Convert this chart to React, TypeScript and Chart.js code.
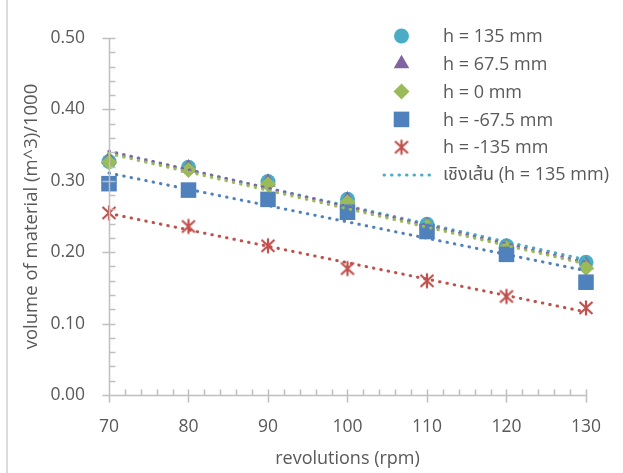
import React, { useEffect, useRef } from "react";
import { Chart, registerables } from "chart.js";
import { drawPoint } from "chart.js/helpers";

Chart.register(...registerables);

// ---- data ----
const rpm = [70, 80, 90, 100, 110, 120, 130];
const h135 = [0.327, 0.319, 0.299, 0.274, 0.239, 0.209, 0.186];
const h67_5 = [0.330, 0.318, 0.298, 0.273, 0.237, 0.207, 0.182];
const h0 = [0.326, 0.315, 0.295, 0.270, 0.236, 0.206, 0.178];
const hMinus67_5 = [0.296, 0.287, 0.274, 0.256, 0.229, 0.197, 0.158];
const hMinus135 = [0.255, 0.236, 0.209, 0.177, 0.160, 0.138, 0.122];

const seriesLabels = ["h = 135 mm", "h = 67.5 mm", "h = 0 mm", "h = -67.5 mm", "h = -135 mm"];
const trendLegendLabel = "เชิงเส้น (h = 135 mm)";
const xTickValues = [70, 80, 90, 100, 110, 120, 130];
const yTickValues = [0, 0.1, 0.2, 0.3, 0.4, 0.5];
const xTitle = "revolutions (rpm)";
const yTitle = "volume of material (m^3)/1000";

// ---- styles ----
const FONT = "'Open Sans', 'Noto Sans', 'Noto Sans Thai', 'DejaVu Sans', sans-serif";
const TEXT = "#595959";
const AXIS = "#bfbfbf";
const colors = ["#4BACC6", "#8064A2", "#9BBB59", "#4F81BD", "#C0504D"];

function makeStar(color: string) {
  const c = document.createElement("canvas");
  c.width = 18;
  c.height = 18;
  const g = c.getContext("2d")!;
  g.strokeStyle = color;
  g.lineWidth = 2.2;
  g.lineCap = "butt";
  g.beginPath();
  g.moveTo(9, 1.5);
  g.lineTo(9, 16.5);
  g.moveTo(2.5, 3);
  g.lineTo(15.5, 15);
  g.moveTo(15.5, 3);
  g.lineTo(2.5, 15);
  g.stroke();
  return c;
}

function getStyles() {
  return [
    { pointStyle: "circle" as any, radius: 7.5, borderWidth: 0 },
    { pointStyle: "triangle" as any, radius: 9, borderWidth: 0 },
    { pointStyle: "rectRot" as any, radius: 8, borderWidth: 0 },
    { pointStyle: "rect" as any, radius: 11, borderWidth: 0 },
    { pointStyle: makeStar(colors[4]) as any, radius: 8, borderWidth: 0 },
  ];
}
const allSeries = [h135, h67_5, h0, hMinus67_5, hMinus135];

function linearFit(xs: number[], ys: number[]) {
  const n = xs.length;
  const mx = xs.reduce((a, b) => a + b, 0) / n;
  const my = ys.reduce((a, b) => a + b, 0) / n;
  let sxy = 0, sxx = 0;
  for (let i = 0; i < n; i++) {
    sxy += (xs[i] - mx) * (ys[i] - my);
    sxx += (xs[i] - mx) * (xs[i] - mx);
  }
  const slope = sxy / sxx;
  const icpt = my - slope * mx;
  const x0 = xs[0], x1 = xs[n - 1];
  return [
    { x: x0, y: icpt + slope * x0 },
    { x: x1, y: icpt + slope * x1 },
  ];
}

const axesPlugin = {
  id: "excelAxes",
  afterDatasetsDraw(chart: any) {
    const ctx = chart.ctx;
    const xs = chart.scales.x;
    const ys = chart.scales.y;
    const { left, bottom } = chart.chartArea;
    const ax = Math.round(left) + 0.5;
    const ay = Math.round(bottom) + 0.5;
    ctx.save();
    ctx.strokeStyle = AXIS;
    ctx.lineWidth = 1.5;
    ctx.beginPath();
    ctx.moveTo(ax, ys.getPixelForValue(0.5));
    ctx.lineTo(ax, ay);
    ctx.moveTo(ax, ay);
    ctx.lineTo(xs.getPixelForValue(130), ay);
    for (let i = 0; i <= 25; i++) {
      const v = i * 0.02;
      const py = Math.round(ys.getPixelForValue(v)) + 0.5;
      if (i % 5 === 0) {
        ctx.moveTo(ax - 7, py);
        ctx.lineTo(ax + 6, py);
      } else {
        ctx.moveTo(ax, py);
        ctx.lineTo(ax + 6, py);
      }
    }
    for (let i = 0; i <= 30; i++) {
      const v = 70 + i * 2;
      const px = Math.round(xs.getPixelForValue(v)) + 0.5;
      if (i % 5 === 0) {
        ctx.moveTo(px, ay - 6);
        ctx.lineTo(px, ay + 7);
      } else {
        ctx.moveTo(px, ay - 6);
        ctx.lineTo(px, ay);
      }
    }
    ctx.stroke();
    ctx.strokeStyle = "#d0d0d0";
    ctx.lineWidth = 1.5;
    ctx.beginPath();
    ctx.moveTo(7, 0);
    ctx.lineTo(7, chart.height);
    ctx.stroke();
    ctx.restore();
  },
};

function makeLegendPlugin(styles: any[]) {
  return {
    id: "excelLegend",
    afterDraw(chart: any) {
      const ctx = chart.ctx;
      const mx = 401.5;
      const tx = 443;
      const y0 = 36;
      const dy = 27.8;
      ctx.save();
      ctx.font = `18px ${FONT}`;
      ctx.textBaseline = "middle";
      ctx.textAlign = "left";
      seriesLabels.forEach((lab, i) => {
        const y = y0 + i * dy;
        const st = styles[i];
        ctx.fillStyle = colors[i];
        ctx.strokeStyle = colors[i];
        ctx.lineWidth = st.borderWidth || 0;
        drawPoint(ctx, { pointStyle: st.pointStyle, radius: st.radius, rotation: 0, borderWidth: st.borderWidth }, mx, y);
        ctx.fillStyle = TEXT;
        ctx.fillText(lab, tx, y + 1);
      });
      const yt = y0 + 5 * dy;
      ctx.strokeStyle = colors[0];
      ctx.lineWidth = 3;
      ctx.lineCap = "round";
      ctx.setLineDash([0.5, 7]);
      ctx.beginPath();
      ctx.moveTo(384, yt);
      ctx.lineTo(434, yt);
      ctx.stroke();
      ctx.setLineDash([]);
      ctx.fillStyle = TEXT;
      ctx.fillText(trendLegendLabel, tx, yt);
      ctx.restore();
    },
  };
}

export default function App() {
  const ref = useRef<HTMLCanvasElement | null>(null);
  useEffect(() => {
    document.body.style.margin = "0";
    const canvas = ref.current;
    if (!canvas) return;
    const styles = getStyles();
    const markerSets = allSeries.map((vals, i) => ({
      type: "scatter",
      label: seriesLabels[i],
      data: rpm.map((x, j) => ({ x, y: vals[j] })),
      backgroundColor: colors[i],
      borderColor: colors[i],
      pointStyle: styles[i].pointStyle,
      pointRadius: styles[i].radius,
      pointBorderWidth: styles[i].borderWidth,
      showLine: false,
      clip: false,
      order: 10 - i,
    }));
    const trendSets = allSeries.map((vals, i) => ({
      type: "line",
      label: "trend " + seriesLabels[i],
      data: linearFit(rpm, vals),
      borderColor: colors[i],
      borderWidth: 3,
      borderDash: [0.5, 7],
      borderCapStyle: "round",
      pointRadius: 0,
      fill: false,
      clip: false,
      order: 5 - i,
    }));
    const chart = new Chart(canvas, {
      type: "scatter",
      data: { datasets: [...markerSets, ...trendSets] as any },
      options: {
        responsive: false,
        animation: false,
        devicePixelRatio: 1,
        layout: { padding: { left: 0, top: 38, right: 27, bottom: 0 } },
        plugins: { legend: { display: false }, tooltip: { enabled: false } },
        scales: {
          x: {
            type: "linear",
            min: 70,
            max: 130,
            afterBuildTicks: (s: any) => { s.ticks = xTickValues.map((v) => ({ value: v })); },
            afterFit: (s: any) => { s.height = 78; },
            grid: { display: false, drawTicks: false },
            border: { display: false },
            ticks: { color: TEXT, font: { family: FONT, size: 17.5 }, padding: 22, maxRotation: 0, callback: (v: any) => String(v) },
            title: { display: true, text: xTitle, color: TEXT, font: { family: FONT, size: 18 }, padding: { top: 0, bottom: 3 } },
          },
          y: {
            type: "linear",
            min: 0,
            max: 0.5,
            afterBuildTicks: (s: any) => { s.ticks = yTickValues.map((v) => ({ value: v })); },
            afterFit: (s: any) => { s.width = 109; },
            grid: { display: false, drawTicks: false },
            border: { display: false },
            ticks: { color: TEXT, font: { family: FONT, size: 17.5 }, padding: 24, callback: (v: any) => Number(v).toFixed(2) },
            title: { display: true, text: yTitle, color: TEXT, font: { family: FONT, size: 18.5 }, padding: { top: 21, bottom: 0 } },
          },
        },
      },
      plugins: [axesPlugin, makeLegendPlugin(styles)],
    } as any);
    return () => chart.destroy();
  }, []);
  return (
    <div style={{ width: 623, height: 473, background: "#fff" }}>
      <canvas ref={ref} width={623} height={473} style={{ display: "block" }} />
    </div>
  );
}
